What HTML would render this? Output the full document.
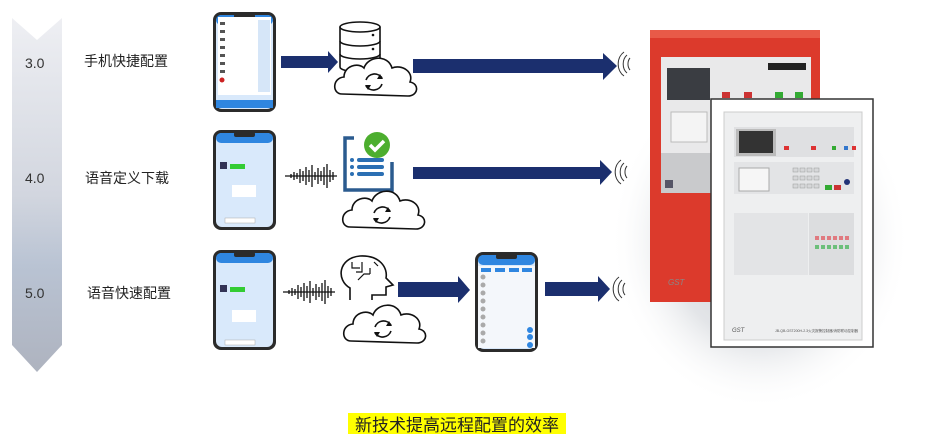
<!DOCTYPE html>
<html><head><meta charset="utf-8"><style>
html,body{margin:0;padding:0;background:#fff;}
body{width:950px;height:443px;position:relative;overflow:hidden;font-family:"Liberation Sans","Noto Sans CJK SC",sans-serif;}
.t{position:absolute;font-size:14px;color:#222;}
.v{position:absolute;font-size:14px;color:#333;}
</style></head><body>
<svg width="950" height="443" style="position:absolute;left:0;top:0">
<defs>
<linearGradient id="band" x1="0" y1="0" x2="0" y2="1">
<stop offset="0" stop-color="#eeeff3"/><stop offset="0.5" stop-color="#d2d6df"/><stop offset="0.7" stop-color="#b9c3d3"/><stop offset="1" stop-color="#aeb3bf"/></linearGradient>
<radialGradient id="glow" cx="0.5" cy="0.5" r="0.5"><stop offset="0" stop-color="#c9cdd3"/><stop offset="0.6" stop-color="#e3e5e8"/><stop offset="1" stop-color="#fff" stop-opacity="0"/></radialGradient>
<g id="phone"><rect x="0" y="0" width="63" height="100" rx="8" fill="#2b2b2b"/><rect x="3" y="3" width="57" height="94" rx="6" fill="#d9e9fb"/><rect x="3" y="3" width="57" height="10" rx="5" fill="#2f86e0"/><rect x="21" y="2" width="21" height="5" rx="2" fill="#2b2b2b"/></g>
<g id="cloud" fill="#fff" stroke="#111" stroke-width="1.6"><path d="M8 44 C-2 44 -2 28 10 27 C10 16 24 12 30 18 C34 6 54 4 58 18 C68 14 80 22 76 32 C86 34 84 46 74 46 Z"/><path d="M32 30 a9 9 0 0 1 16 -2 M48 34 a9 9 0 0 1 -16 2" fill="none"/><path d="M46 24 l3 5 l-6 0z M34 40 l-3 -5 l6 0z" fill="#111" stroke="none"/></g>
<g id="wave" stroke="#111" stroke-width="1.3"><path d="M0 0 H52"/><path d="M6 -2v4M9 -4v8M12 -3v6M15 -7v14M18 -5v10M21 -9v18M24 -6v12M27 -11v22M30 -4v8M33 -8v16M36 -5v10M39 -9v18M42 -12v24M45 -6v12M48 -4v8"/></g>
</defs>
<!-- band -->
<path d="M12 18 L37 40 L62 18 L62 345 L37 372 L12 345 Z" fill="url(#band)"/>
<!-- glow -->
<ellipse cx="760" cy="240" rx="150" ry="170" fill="url(#glow)"/>
<!-- phones -->
<use href="#phone" x="213" y="12"/>
<rect x="218" y="17" width="53" height="78" fill="#fff"/>
<rect x="258" y="20" width="12" height="72" fill="#d6e6f8"/>
<g fill="#555"><rect x="220" y="22" width="5" height="3"/><rect x="220" y="30" width="5" height="3"/><rect x="220" y="38" width="5" height="3"/><rect x="220" y="46" width="5" height="3"/><rect x="220" y="54" width="5" height="3"/><rect x="220" y="62" width="5" height="3"/><rect x="220" y="70" width="5" height="3"/></g>
<circle cx="222" cy="80" r="2.5" fill="#c22"/>
<rect x="216" y="100" width="57" height="8" fill="#2f86e0"/>
<use href="#phone" x="213" y="130"/>
<rect x="220" y="162" width="7" height="7" fill="#335"/><rect x="230" y="164" width="15" height="5" fill="#3c3"/>
<rect x="232" y="185" width="24" height="12" fill="#fff"/>
<rect x="225" y="218" width="30" height="5" fill="#fff" stroke="#aaa" stroke-width="0.5"/>
<use href="#phone" x="213" y="250"/>
<rect x="220" y="285" width="7" height="7" fill="#335"/><rect x="230" y="287" width="15" height="5" fill="#3c3"/>
<rect x="232" y="310" width="24" height="12" fill="#fff"/>
<rect x="225" y="340" width="30" height="5" fill="#fff" stroke="#aaa" stroke-width="0.5"/>
<use href="#phone" x="475" y="252"/>
<rect x="478" y="266" width="57" height="82" fill="#f4f7fb"/>
<g fill="#2f86e0"><rect x="481" y="268" width="10" height="4"/><rect x="495" y="268" width="10" height="4"/><rect x="509" y="268" width="10" height="4"/><rect x="522" y="268" width="10" height="4"/></g>
<g fill="#aaa"><circle cx="483" cy="277" r="2.5"/><circle cx="483" cy="285" r="2.5"/><circle cx="483" cy="293" r="2.5"/><circle cx="483" cy="301" r="2.5"/><circle cx="483" cy="309" r="2.5"/><circle cx="483" cy="317" r="2.5"/><circle cx="483" cy="325" r="2.5"/><circle cx="483" cy="333" r="2.5"/><circle cx="483" cy="341" r="2.5"/></g>
<g fill="#2f86e0"><circle cx="530" cy="330" r="3"/><circle cx="530" cy="337" r="3"/><circle cx="530" cy="345" r="3"/></g>
<!-- row1 icons -->
<path d="M281 56 H328 V51 L338 62 L328 73 V68 H281Z" fill="#1b2f6e"/>
<g fill="#fff" stroke="#111" stroke-width="1.6"><path d="M340 27 v40 a20 5 0 0 0 40 0 v-40"/><ellipse cx="360" cy="27" rx="20" ry="5"/><path d="M340 41 a20 5 0 0 0 40 0 M340 54 a20 5 0 0 0 40 0" fill="none"/></g>
<g fill="#111"><circle cx="373" cy="35" r="1.3"/><circle cx="373" cy="49" r="1.3"/><circle cx="373" cy="62" r="1.3"/></g>
<use href="#cloud" x="334" y="50"/>
<path d="M413 59 H603 V53 L617 66 L603 80 V73 H413Z" fill="#1b2f6e"/>
<!-- row2 -->
<use href="#wave" x="285" y="176"/>
<path d="M354 138 H345 V190 H392 V162" fill="none" stroke="#2b5b8f" stroke-width="3.5"/>
<g fill="#2b6fb3"><circle cx="352" cy="160" r="2"/><circle cx="352" cy="167" r="2"/><circle cx="352" cy="174" r="2"/><rect x="357" y="158" width="27" height="4" rx="2"/><rect x="357" y="165" width="27" height="4" rx="2"/><rect x="357" y="172" width="27" height="4" rx="2"/></g>
<circle cx="377" cy="145" r="13" fill="#4cae2e"/><path d="M370 145 l5 5 l9 -9" fill="none" stroke="#fff" stroke-width="3.5"/>
<use href="#cloud" x="342" y="183"/>
<path d="M413 167 H600 V160 L612 172 L600 185 V179 H413Z" fill="#1b2f6e"/>
<!-- row3 -->
<use href="#wave" x="283" y="292"/>
<path d="M350 300 V288 C336 280 338 258 360 256 C380 255 388 268 386 278 L393 285 L386 287 V295 H372 V300" fill="#fff" stroke="#111" stroke-width="1.6"/>
<g stroke="#111" stroke-width="1.2" fill="none"><path d="M352 262 v6 h8 M362 262 v10 h-6 M358 280 l6 -6 h6 M370 268 v6 M374 262 l4 4"/></g>
<use href="#cloud" x="343" y="297"/>
<path d="M398 282 H458 V276 L470 290 L458 303 V297 H398Z" fill="#1b2f6e"/>
<path d="M545 282 H598 V276 L610 289 L598 302 V296 H545Z" fill="#1b2f6e"/>
<!-- wifi -->
<g fill="none" stroke="#333" stroke-width="1"><path d="M630 58 a6 8 0 0 0 0 12 M627 55 a9 11 0 0 0 0 18 M624 52 a12 14 0 0 0 0 24"/>
<path d="M627 166 a6 8 0 0 0 0 12 M624 163 a9 11 0 0 0 0 18 M621 160 a12 14 0 0 0 0 24"/>
<path d="M625 283 a6 8 0 0 0 0 12 M622 280 a9 11 0 0 0 0 18 M619 277 a12 14 0 0 0 0 24"/></g>
<!-- red panel -->
<rect x="650" y="30" width="170" height="272" fill="#dc3a2c"/>
<rect x="650" y="30" width="170" height="8" fill="#e85a48"/>
<rect x="661" y="57" width="150" height="120" fill="#e9e9ea"/>
<rect x="667" y="68" width="43" height="32" fill="#3a3d42"/>
<rect x="671" y="112" width="36" height="30" fill="#f4f4f4" stroke="#bbb"/>
<rect x="661" y="153" width="50" height="40" fill="#c9cacc"/>
<rect x="665" y="180" width="8" height="8" fill="#556"/>
<g fill="#c33"><rect x="722" y="92" width="8" height="6"/><rect x="744" y="92" width="8" height="6"/></g>
<g fill="#3a3"><rect x="775" y="92" width="8" height="6"/><rect x="795" y="92" width="8" height="6"/></g>
<rect x="768" y="63" width="38" height="7" fill="#222"/>
<text x="668" y="285" font-size="8" fill="#888" font-style="italic" font-family="Liberation Sans">GST</text>
<!-- white panel -->
<rect x="711" y="99" width="162" height="248" fill="#fff" stroke="#333" stroke-width="1.5"/>
<rect x="724" y="112" width="138" height="228" fill="#eeeff0" stroke="#ccc"/>
<rect x="734" y="127" width="120" height="30" fill="#dfe0e2"/>
<rect x="736" y="129" width="40" height="27" fill="#bbb"/><rect x="739" y="131" width="34" height="22" fill="#333"/>
<g fill="#d33"><rect x="784" y="146" width="5" height="4"/><rect x="811" y="146" width="5" height="4"/><rect x="852" y="146" width="4" height="4"/></g>
<g fill="#3a3"><rect x="832" y="146" width="4" height="4"/></g><rect x="844" y="146" width="4" height="4" fill="#37c"/>
<rect x="734" y="162" width="120" height="32" fill="#e3e4e6"/>
<rect x="739" y="168" width="30" height="23" fill="#f6f6f6" stroke="#aaa"/>
<g fill="#d6d7d9" stroke="#999" stroke-width="0.5"><rect x="793" y="168" width="5" height="4"/><rect x="800" y="168" width="5" height="4"/><rect x="807" y="168" width="5" height="4"/><rect x="814" y="168" width="5" height="4"/><rect x="793" y="176" width="5" height="4"/><rect x="800" y="176" width="5" height="4"/><rect x="807" y="176" width="5" height="4"/><rect x="814" y="176" width="5" height="4"/><rect x="793" y="184" width="5" height="4"/><rect x="800" y="184" width="5" height="4"/><rect x="807" y="184" width="5" height="4"/><rect x="814" y="184" width="5" height="4"/></g>
<rect x="825" y="185" width="7" height="5" fill="#3a3"/><rect x="834" y="185" width="7" height="5" fill="#c33"/><circle cx="847" cy="182" r="3" fill="#237"/>
<rect x="734" y="213" width="74" height="62" fill="#e3e4e6"/>
<rect x="809" y="213" width="45" height="62" fill="#dcdddf"/>
<g fill="#e07a80"><rect x="815" y="236" width="4" height="4"/><rect x="821" y="236" width="4" height="4"/><rect x="827" y="236" width="4" height="4"/><rect x="833" y="236" width="4" height="4"/><rect x="839" y="236" width="4" height="4"/><rect x="845" y="236" width="4" height="4"/></g>
<g fill="#6cbf7a"><rect x="815" y="245" width="4" height="4"/><rect x="821" y="245" width="4" height="4"/><rect x="827" y="245" width="4" height="4"/><rect x="833" y="245" width="4" height="4"/><rect x="839" y="245" width="4" height="4"/><rect x="845" y="245" width="4" height="4"/></g>
<text x="732" y="332" font-size="6" fill="#555" font-style="italic" font-family="Liberation Sans">GST</text>
<text x="775" y="332" font-size="3.5" fill="#555">JB-QB-GST200H-2.3火灾报警控制器/消防联动控制器</text>
<!-- caption bg -->
<rect x="348" y="413" width="218" height="21" fill="#ffff00"/>
</svg>
<div class="v" style="left:25px;top:55px">3.0</div>
<div class="v" style="left:25px;top:170px">4.0</div>
<div class="v" style="left:25px;top:285px">5.0</div>
<div class="t" style="left:84px;top:51px">手机快捷配置</div>
<div class="t" style="left:85px;top:168px">语音定义下载</div>
<div class="t" style="left:87px;top:283px">语音快速配置</div>
<div style="position:absolute;left:348px;top:411px;width:218px;text-align:center;font-size:17px;color:#222;">新技术提高远程配置的效率</div>
</body></html>
